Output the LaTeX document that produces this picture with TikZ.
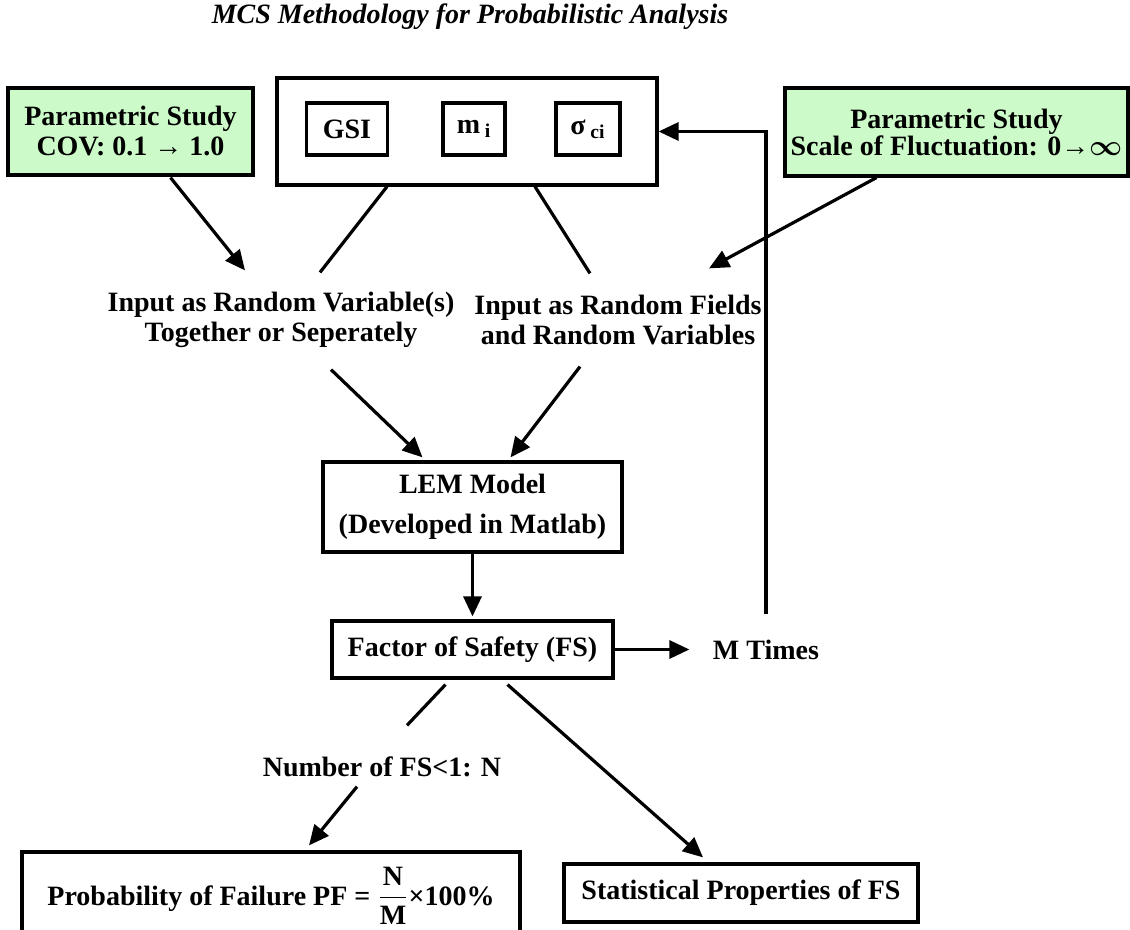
\documentclass[tikz,border=0pt]{standalone}
\usepackage{fontspec}
\setmainfont{Liberation Serif}
\usetikzlibrary{arrows.meta,calc}
\definecolor{paramgreen}{RGB}{204,250,200}

\tikzset{%
		every box/.style={
			draw,
			line width=1.6pt,
			align=center,
			inner sep=0pt,
			font=\fontsize{14}{15}\selectfont\bfseries
		},
		box param/.style={
			fill=paramgreen
		},
		every note/.style={
			align=center,
			inner sep=0pt,
			font=\fontsize{14}{15}\selectfont\bfseries
		},
	}

\begin{document}
\begin{tikzpicture}[x=0.5pt, y=-0.5pt, line width=1.6pt, >={Triangle[length=10pt,width=9pt]}]
			\useasboundingbox (0,0) rectangle (1130,930);
			
			% title
			\node [every note, font=\fontsize{14}{16}\selectfont\bfseries\itshape] (title) at (470,17) {MCS Methodology for Probabilistic Analysis};
			
			% draw parametric study boxes
			\node [every box, box param, minimum width=122.5pt, minimum height=43.5pt] (cov) at (130.5,131.5) {Parametric Study\\COV: 0.1 → 1.0};
			\node [every box, box param, minimum width=171.5pt, minimum height=44pt] (scale) at (956.5,132) {Parametric Study\\[-1.5pt]Scale of Fluctuation: 0→{\boldmath$\infty$}};
			
			% draw box of input parameters
			\node [every box, minimum width=190pt, minimum height=53.5pt] (vars) at (467,131.5) {};
			\foreach \n/\l/\x/\w in {gsi/GSI/347/40.5, mi/{m\,\textsubscript{i}}/474/31, sci/{σ\,\textsubscript{ci}}/588/32}
			\node [every box, minimum width=\w pt, minimum height=26pt] (\n) at (\x,129) {\l};
			
			% input as random variables / fields
			\node [every note, minimum height=30pt] (rv) at (281,320) {Input as Random Variable(s)\\Together or Seperately};
			\node [every note, minimum height=30pt] (rf) at (618,320) {Input as Random Fields\\and Random Variables};
			
			% draw model and result boxes
			\node [every box, minimum width=149.5pt, minimum height=45pt] (lem) at (472.5,507) {LEM Model\\[5pt](Developed in Matlab)};
			\node [every box, minimum width=140.5pt, minimum height=28.5pt] (fs) at (472.5,649.5) {Factor of Safety (FS)};
			\node [every note] (mtimes) at (766,649.5) {M Times};
			\node [every note] (nfs) at (382,767) {Number of FS<1: N};
			\node [every box, minimum width=249pt, minimum height=44pt] (pf) at (271,896) {Probability of Failure PF = $\displaystyle\frac{\textbf{N}}{\textbf{M}}$×100\%};
			\node [every box, minimum width=177pt, minimum height=29pt] (stats) at (741,893) {Statistical Properties of FS};
			
			% Draw arrows into the inputs
			\draw [->] ($(cov.south)+(40,1)$) -- ($(rv.north)+(-36,-18)$);
			\draw [->] ($(scale.south)+(-80,0)$) -- ($(rf.north)+(91,-20)$);
			\draw ($(vars.south)+(-80,0)$) -- ($(rv.north)+(39,-16)$);
			\draw ($(vars.south)+(68,0)$) -- ($(rf.north)+(-28,-15)$);
			
			% Draw arrows into the model
			\draw [->] ($(rv.south)+(50,18)$) -- ($(lem.north)+(-50,-3)$);
			\draw [->] ($(rf.south)+(-38,15)$) -- ($(lem.north)+(38,-3)$);
			\draw [->, shorten >=1.5pt] (lem) -- (fs);
			
			% Draw the repetition loop
			\draw [->, shorten >=11pt] (fs.east) -- (mtimes.west);
			\draw [->, shorten <=12pt] (mtimes.north) |- (vars.east);
			
			% Draw arrows to the results
			\draw ($(fs.south)+(-27,5)$) -- ($(nfs.north)+(25,-30)$);
			\draw [->] ($(nfs.south)+(-25,8)$) -- ($(pf.north)+(38,-5)$);
			\draw [->] ($(fs.south)+(35,5)$) -- ($(stats.north)+(-38,-5)$);
			\end{tikzpicture}
\end{document}
